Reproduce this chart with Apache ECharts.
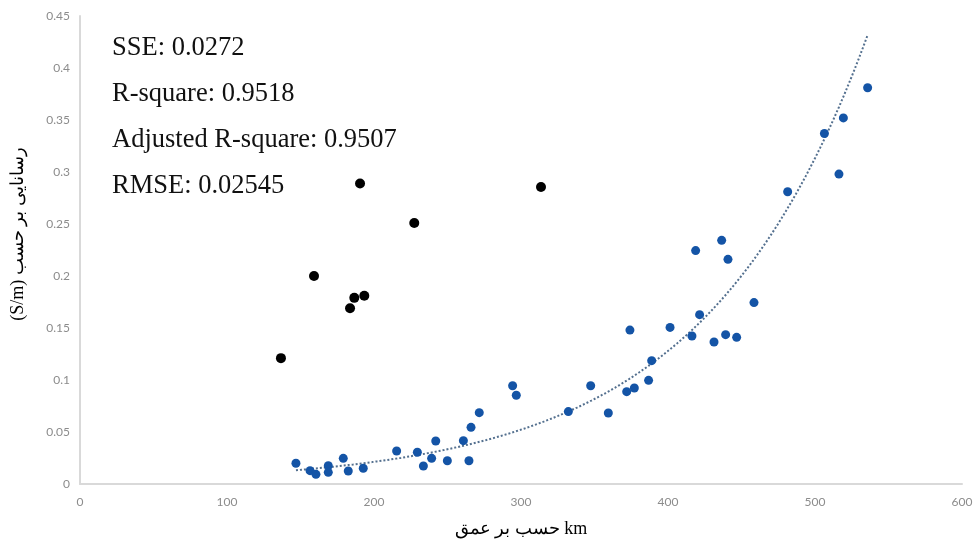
<!DOCTYPE html>
<html>
<head>
<meta charset="utf-8">
<script src="https://cdn.jsdelivr.net/npm/echarts@6/dist/echarts.min.js"></script>
<style>
html,body{margin:0;padding:0;background:#fff;}
#chart{width:976px;height:544px;}
</style>
</head>
<body>
<div id="chart"></div>
<script>
// Blue points (fitted data)
const blueX = [146.9,156.5,160.5,168.9,168.9,179.1,182.5,192.7,215.4,229.5,233.6,239.2,242.0,249.9,260.8,264.6,266.0,
  271.6,294.3,296.8,332.2,347.4,359.4,371.9,377.1,374.1,386.8,388.9,401.4,416.3,418.8,421.5,431.3,436.5,439.2,440.8,446.7,458.5,
  481.4,506.4,516.3,519.3,535.8];
const blueY = [0.0199,0.0128,0.0093,0.0176,0.0112,0.0247,0.0125,0.0151,0.0317,0.0305,0.0173,0.0247,0.0413,0.0224,0.0417,0.0224,0.0545,
  0.0686,0.0945,0.0853,0.0696,0.0945,0.0683,0.0888,0.0923,0.148,0.0997,0.1186,0.1506,0.1423,0.2244,0.1628,0.1365,0.2343,0.1436,0.2160,0.1410,0.1744,
  0.281,0.337,0.298,0.352,0.381];
// Black points (outliers)
const blackX = [136.7,159.2,183.7,186.6,193.4,190.5,227.4,313.6];
const blackY = [0.121,0.200,0.169,0.179,0.181,0.289,0.251,0.2856];
// Statistics text
const statsLines = ['SSE: 0.0272','R-square: 0.9518','Adjusted R-square: 0.9507','RMSE: 0.02545'];
const xTicks = [0,100,200,300,400,500,600];
const yTicks = [0,0.05,0.1,0.15,0.2,0.25,0.3,0.35,0.4,0.45];
const xName = 'حسب بر عمق km';
const yName = '(S/m) رسانایی بر حسب';

// Exponential trend line (least squares on ln y, as a spreadsheet trendline does)
let n = blueX.length, sx=0, sy=0, sxx=0, sxy=0;
for (let i=0;i<n;i++){ const lx=blueX[i], ly=Math.log(blueY[i]); sx+=lx; sy+=ly; sxx+=lx*lx; sxy+=lx*ly; }
const b = (n*sxy - sx*sy)/(n*sxx - sx*sx);
const a = Math.exp((sy - b*sx)/n);
const xMin = Math.min(...blueX), xMax = Math.max(...blueX);
const trend = [];
for (let i=0;i<=120;i++){ const x = xMin + (xMax-xMin)*i/120; trend.push([x, a*Math.exp(b*x)]); }

const chart = echarts.init(document.getElementById('chart'));
chart.setOption({
  animation:false,
  backgroundColor:'#fff',
  grid:{left:80,right:14,top:16,bottom:60},
  xAxis:{type:'value',min:xTicks[0],max:xTicks[xTicks.length-1],interval:100,
    axisLine:{show:true,lineStyle:{color:'#d9d9d9',width:2}},
    axisTick:{show:false},splitLine:{show:false},
    axisLabel:{color:'#8c8c8c',fontSize:12,fontFamily:'Lato, sans-serif',margin:12},
    name:xName,nameLocation:'middle',nameGap:36,
    nameTextStyle:{color:'#000',fontSize:18,fontFamily:'Liberation Serif, DejaVu Serif, serif'}},
  yAxis:{type:'value',min:yTicks[0],max:yTicks[yTicks.length-1],interval:0.05,
    axisLine:{show:true,lineStyle:{color:'#d9d9d9',width:2}},
    axisTick:{show:false},splitLine:{show:false},
    axisLabel:{color:'#8c8c8c',fontSize:12,fontFamily:'Lato, sans-serif',margin:10}},
  graphic: statsLines.map((t,i)=>({type:'text',left:112,top:35+i*46,
    style:{text:t,fill:'#111',font:'26.5px "Liberation Serif", serif'}})).concat([
    {type:'text',x:18,y:234,rotation:Math.PI/2,
      style:{text:yName,fill:'#000',align:'center',verticalAlign:'middle',
        font:'18px "Liberation Serif", "DejaVu Serif", serif'}}]),
  series:[
    {type:'line',data:trend,showSymbol:false,symbol:'none',smooth:false,
      lineStyle:{color:'#54708f',width:2,type:[2,2]},z:1},
    {type:'scatter',data:blueX.map((x,i)=>[x,blueY[i]]),symbolSize:9,
      itemStyle:{color:'#1454a6',opacity:1},z:3},
    {type:'scatter',data:blackX.map((x,i)=>[x,blackY[i]]),symbolSize:10,
      itemStyle:{color:'#000',opacity:1},z:3}
  ]
});
</script>
</body>
</html>
